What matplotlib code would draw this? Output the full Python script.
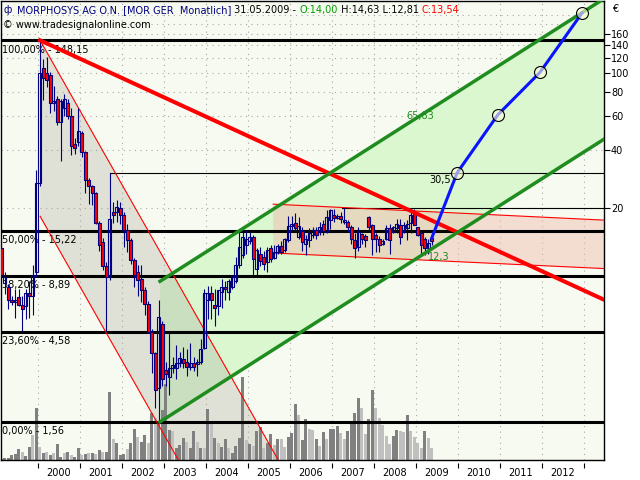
import matplotlib
matplotlib.use('Agg')
import matplotlib.pyplot as plt
import numpy as np
import pandas as pd
from matplotlib.patches import Rectangle, Polygon
from matplotlib.transforms import blended_transform_factory

plt.rcParams['font.family'] = 'DejaVu Sans'
plt.rcParams['font.size'] = 7

# monthly candles Feb 1999 .. May 2009
opens = [12.4, 8.2, 7.8, 6.7, 6.5, 6.9, 6.3, 6.2, 7.3, 7.0, 9.3,            # 1999
         27, 106, 100, 98, 70, 74, 56, 66, 70, 60, 43, 44,                   # 2000
         49, 39, 28, 26, 24, 16.8, 13.3, 10.0, 8.8, 19.0, 19.0, 20.0,        # 2001
         18.5, 15.4, 13.7, 10.8, 9.3, 8.6, 7.5, 6.4, 4.55, 3.55, 2.33, 5.0,  # 2002
         2.9, 2.66, 2.97, 2.97, 3.15, 3.3, 3.2, 3.0, 3.15, 3.1, 3.2, 3.77,   # 2003
         6.7, 7.3, 6.3, 6.2, 7.35, 7.8, 7.35, 7.8, 8.4, 10.1, 11.4, 12.8,    # 2004
         13.5, 14.1, 9.7, 11.6, 11.1, 10.45, 12.36, 11.0, 11.9, 12.66, 12.06, 13.6,  # 2005
         16.1, 16.7, 14.2, 15.2, 13.1, 13.6, 14.5, 15.4, 15.0, 16.5, 15.0, 17.3,    # 2006
         18.4, 17.8, 18.1, 16.9, 16.9, 15.9, 13.6, 12.5, 14.6, 14.3, 17.96, 16.3,   # 2007
         14.5, 13.9, 13.1, 13.9, 15.7, 15.0, 15.7, 16.3, 15.4, 15.7, 16.7, 18.8,    # 2008
         15.9, 14.8, 13.9, 12.4, 14.00]                                       # 2009
highs = [12.8, 9.3, 8.1, 7.0, 7.6, 7.6, 7.0, 7.6, 8.4, 10.1, 31.5,
         148.15, 119, 122, 102, 86, 76, 74, 78, 74, 66, 46, 66,
         50, 39.5, 28.5, 26.5, 24.3, 17.2, 14, 10.5, 30.5, 21.5, 22.0, 21.5,
         19, 16.5, 14, 11, 10.1, 10.1, 7.8, 6.6, 4.7, 3.6, 6.7, 5.2,
         3.2, 4.5, 3.4, 3.9, 3.6, 3.8, 3.7, 4.0, 3.4, 3.3, 4.2, 7.6,
         7.9, 7.9, 7.6, 7.5, 8.6, 8.4, 8.6, 9.0, 11.1, 15.4, 15.0, 15.4,
         15.0, 14.5, 12.4, 12.5, 12.0, 12.5, 12.8, 12.9, 13.1, 13.5, 14.0, 18.2,
         18.2, 18.8, 18.0, 16.0, 14.5, 15.7, 16.0, 16.0, 17.0, 17.3, 19.5, 19.8,
         19.8, 18.6, 19.2, 20.0, 17.4, 16.3, 14.9, 16.0, 14.8, 14.7, 18.2, 16.5,
         14.8, 14.3, 13.9, 16.3, 16.5, 16.1, 17.5, 17.5, 16.9, 17.3, 19.1, 19.8,
         15.9, 15.2, 14.2, 13.8, 14.63]
lows = [8.8, 7.2, 6.0, 6.3, 5.4, 6.2, 4.6, 5.3, 5.4, 5.6, 8.8,
        26, 72.6, 85, 62, 64, 54, 35, 60, 58, 37.5, 38, 42,
        36.6, 24, 21, 20.8, 16.5, 12, 9.5, 4.6, 8.5, 16.7, 17.0, 16.5,
        12.6, 11.8, 10.3, 7.8, 7.0, 6.5, 5.6, 4.5, 2.8, 1.85, 1.56, 2.4,
        2.4, 2.15, 2.8, 2.6, 3.0, 2.95, 2.7, 2.9, 2.85, 2.7, 3.1, 3.7,
        5.3, 5.3, 4.9, 5.6, 6.1, 6.7, 6.7, 7.6, 8.2, 9.8, 11.0, 11.6,
        13.0, 9.0, 9.0, 10.0, 9.5, 9.3, 10.5, 10.96, 11.5, 11.5, 11.9, 13.4,
        15.4, 15.2, 13.9, 12.0, 11.4, 12.6, 14.0, 13.9, 14.5, 14.5, 14.8, 15.5,
        16.9, 17.5, 16.7, 16.5, 15.0, 13.0, 11.0, 12.0, 13.0, 12.6, 15.3, 11.4,
        11.9, 11.9, 12.8, 13.6, 11.6, 14.8, 14.8, 13.1, 14.8, 13.6, 14.8, 16.3,
        14.3, 11.4, 11.4, 11.6, 12.81]
closes = [9.0, 8.8, 6.7, 6.55, 6.7, 6.3, 6.0, 7.3, 7.0, 9.0, 27.0,
          100, 94, 92, 70, 72, 56, 72, 74, 60, 42, 41, 50,
          39, 28, 26, 24, 16.8, 12.9, 10.0, 8.8, 17.6, 18.5, 20.2, 18.5,
          15.4, 13.7, 10.8, 9.0, 8.5, 7.5, 6.4, 4.55, 3.55, 2.28, 5.45, 2.6,
          2.75, 2.97, 3.08, 3.15, 3.35, 3.15, 3.0, 3.15, 3.0, 3.2, 3.7, 7.27,
          7.3, 6.7, 6.1, 7.5, 7.8, 7.65, 8.4, 8.8, 10.1, 12.5, 14.1, 13.9,
          14.1, 10.96, 12.1, 10.7, 10.3, 12.06, 10.96, 11.9, 12.66, 11.9, 13.78, 16.1,
          16.5, 15.7, 16.1, 13.3, 13.9, 14.8, 15.4, 14.5, 15.9, 15.2, 17.96, 19.5,
          17.8, 18.1, 17.6, 17.4, 15.9, 13.9, 12.36, 15.0, 13.9, 13.6, 15.9, 13.9,
          13.9, 12.8, 13.45, 15.7, 13.6, 15.9, 16.5, 14.1, 16.3, 16.5, 18.4, 16.3,
          14.5, 12.8, 12.4, 13.2, 13.54]

# monthly volume (10k shares) and bar shade (1 = dark, 0 = light)
volume = [1, 2, 2, 5, 6, 11, 8, 4, 13, 25, 52,
          13, 7, 8, 5, 7, 16, 3, 7, 8, 5, 3, 12,
          5, 6, 7, 7, 6, 10, 8, 8, 67, 21, 17, 5,
          6, 11, 17, 31, 23, 18, 25, 17, 47, 42, 37, 50,
          75, 30, 29, 12, 15, 22, 18, 12, 29, 18, 12, 12,
          51, 37, 22, 17, 13, 21, 12, 7, 14, 22, 82, 20,
          16, 14, 29, 33, 12, 17, 26, 15, 21, 21, 13, 23,
          27, 56, 45, 20, 41, 31, 30, 21, 14, 28, 21, 31,
          31, 34, 27, 21, 29, 38, 47, 62, 52, 26, 41, 69,
          52, 42, 35, 24, 16, 24, 30, 29, 28, 45, 29, 23,
          17, 12, 29, 22, 12]
vol_dark = [1, 1, 1, 1, 1, 1, 0, 1, 1, 0, 1,
            0, 1, 0, 1, 0, 1, 1, 0, 1, 0, 1, 1,
            0, 1, 0, 1, 0, 1, 0, 1, 1, 0, 1, 1,
            1, 0, 1, 1, 0, 1, 1, 0, 1, 0, 1, 1,
            1, 1, 0, 1, 1, 1, 0, 1, 1, 0, 1, 0,
            1, 0, 1, 0, 1, 1, 0, 1, 1, 1, 1, 0,
            1, 0, 1, 1, 0, 1, 1, 0, 1, 0, 0, 1,
            1, 1, 0, 1, 1, 0, 0, 1, 0, 1, 0, 1,
            1, 1, 0, 0, 1, 1, 1, 1, 0, 0, 1, 1,
            0, 0, 0, 0, 0, 1, 1, 0, 0, 1, 0, 0,
            0, 0, 1, 0, 0]

# Fibonacci retracement levels
fib_pct = ['100,00%', '50,00%', '38,20%', '23,60%', '0,00%']
fib_val = [148.15, 15.22, 8.89, 4.58, 1.56]

# trend lines: two anchor points (year, price)
down_upper = [(2000.05, 148.15), (2005.45, 1.256)]
down_lower = [(2000.05, 18.13), (2005.45, 0.1537)]
resist = [(2000.05, 148.15), (2013.476, 6.7)]
green_lower = [(2002.905, 1.56), (2009.375, 12.3)]
green_upper = [(2002.905, 8.35), (2009.375, 65.83)]
box_top = [(2005.6, 20.97), (2013.476, 17.33)]
box_bottom = [(2005.6, 11.7), (2013.476, 9.72)]
level_lines = [(2001.71, 30.5), (2007.24, 20.0)]

# projection
proj_t = [2009.375, 2009.98, 2010.95, 2011.95, 2012.95]
proj_v = [14.0, 30.5, 61.0, 101.0, 205.0]

price_ticks = [20, 40, 60, 80, 100, 120, 140, 160]
grid_levels = [20, 40, 60, 80, 100, 120, 140, 160, 180, 200]
years = list(range(2000, 2014))

X0, X1 = 1999.119, 2013.476


def logline(t, p):
    (t0, v0), (t1, v1) = p
    return v0 * (v1 / v0) ** ((np.asarray(t) - t0) / (t1 - t0))


def month_pos(n):
    d = pd.date_range(end='2009-05-01', periods=n, freq='MS')
    return np.array(d.year + (d.month - 0.5) / 12.0)


fig = plt.figure(figsize=(6.4, 4.8), dpi=100)
ax = fig.add_axes([1 / 640, 20 / 480, 603 / 640, 459 / 480])
ax.set_facecolor('#F7FAF0')
ax.set_yscale('log')
ax.set_xlim(X0, X1)
ax.set_ylim(0.989, 237)
ax.set_autoscale_on(False)

# grid
for g in grid_levels:
    ax.axhline(g, color='#A8A8A8', lw=0.8, ls=(0, (1, 4)), zorder=1)
for y in years:
    ax.axvline(y, color='#A8A8A8', lw=0.8, ls=(0, (1, 4)), zorder=1)

# channel fills
tg = np.array([green_lower[0][0], X1])
ax.add_patch(Polygon([(tg[0], logline(tg[0], green_lower)), (tg[1], logline(tg[1], green_lower)),
                      (tg[1], logline(tg[1], green_upper)), (tg[0], logline(tg[0], green_upper))],
                     closed=True, facecolor='#DAF7CF', edgecolor='none', zorder=1.5))
td = [down_upper[0][0], 2006.5]
ax.add_patch(Polygon([(td[0], logline(td[0], down_upper)), (td[1], logline(td[1], down_upper)),
                      (td[1], logline(td[1], down_lower)), (td[0], logline(td[0], down_lower))],
                     closed=True, facecolor='#A8A89C', alpha=0.3, edgecolor='none', zorder=1.6))
tb = [box_top[0][0], X1]
ax.add_patch(Polygon([(tb[0], logline(tb[0], box_top)), (tb[1], logline(tb[1], box_top)),
                      (tb[1], logline(tb[1], box_bottom)), (tb[0], logline(tb[0], box_bottom))],
                     closed=True, facecolor='#F0BFB2', alpha=0.5, edgecolor='none', zorder=1.7))

# volume bars at the bottom
tv = month_pos(len(volume))
vscale = max(volume) / 0.18
blend = blended_transform_factory(ax.transData, ax.transAxes)
for t, v, dk in zip(tv, volume, vol_dark):
    ax.add_patch(Rectangle((t - 0.034, 0), 0.068, v / vscale, transform=blend,
                           facecolor='#808080' if dk else '#C0C0C0', edgecolor='none', zorder=2))

# fibonacci levels
for p, v in zip(fib_pct, fib_val):
    ax.axhline(v, color='black', lw=2.2, zorder=3)
    ax.annotate(p + ' - ' + f'{v:.2f}'.replace('.', ','), xy=(0, v),
                xycoords=('axes fraction', 'data'), xytext=(0.5, -3), textcoords='offset points',
                ha='left', va='top', fontsize=7, zorder=3)

for t0, v in level_lines:
    ax.plot([t0, X1], [v, v], color='black', lw=0.8, zorder=3)

# thin channel lines
tt = np.array(td)
ax.plot(tt, logline(tt, down_upper), color='red', lw=0.8, zorder=3.2)
ax.plot(tt, logline(tt, down_lower), color='red', lw=0.8, zorder=3.2)
tb = np.array(tb)
ax.plot(tb, logline(tb, box_top), color='red', lw=0.8, zorder=3.2)
ax.plot(tb, logline(tb, box_bottom), color='red', lw=0.8, zorder=3.2)

# candles
tc = month_pos(len(opens))
ax.vlines(tc, lows, highs, color='#000080', lw=0.8, zorder=4)
for t, o, c in zip(tc, opens, closes):
    lo, hi = min(o, c), max(o, c)
    ax.add_patch(Rectangle((t - 0.034, lo), 0.068, hi - lo,
                           facecolor='red' if c < o else 'none',
                           edgecolor='#000080', lw=0.8, zorder=4.1))

# thick trend lines
tr = np.array([resist[0][0], X1])
ax.plot(tr, logline(tr, resist), color='#FF0000', lw=2.9, zorder=5)
ax.plot(tg, logline(tg, green_lower), color='#1F8C1F', lw=2.5, zorder=5)
ax.plot(tg, logline(tg, green_upper), color='#1F8C1F', lw=2.5, zorder=5)

# projection
ax.plot(proj_t, proj_v, color='#0A14FF', lw=2.2, zorder=6)
ax.plot(proj_t[1:], proj_v[1:], ls='none', marker='o', ms=8.6,
        mfc=(1, 1, 0.85, 0.6), mec='black', mew=0.8, zorder=6.1)

# value labels
ax.text(2009.1, 60.0, f'{green_upper[1][1]:.2f}'.replace('.', ','), color='#1F8C1F',
        ha='center', va='center', fontsize=7, zorder=7)
ax.text(2009.55, 11.2, f'{green_lower[1][1]:.1f}'.replace('.', ','), color='#1F8C1F',
        ha='center', va='center', fontsize=7, zorder=7)
ax.text(2009.83, 27.9, f'{level_lines[0][1]:.1f}'.replace('.', ','), color='black',
        ha='right', va='center', fontsize=7, zorder=7)

# axes
ax.yaxis.tick_right()
ax.set_yticks(price_ticks)
ax.set_yticklabels([str(v) for v in price_ticks])
ax.yaxis.set_minor_locator(matplotlib.ticker.NullLocator())
ax.tick_params(axis='y', direction='out', length=4, width=0.8, pad=1, labelsize=7)
ax.set_xticks(years)
ax.set_xticklabels([])
ax.set_xticks([y + 0.5 for y in years[:-1]], minor=True)
ax.set_xticklabels([str(y) for y in years[:-1]], minor=True)
ax.tick_params(axis='x', which='major', length=0)
ax.tick_params(axis='x', which='minor', length=0, pad=6, labelsize=7)
# year tick marks hang slightly below the frame
ax.vlines(years, -0.0065, -0.0185, transform=blend, color='black', lw=0.8, clip_on=False)
for s in ax.spines.values():
    s.set_linewidth(1.0)

fig.text(612 / 640, 1 - 9 / 480, '€', fontsize=7, ha='left', va='center')

# header
fig.text(3 / 640, 1 - 10 / 480, 'ф', color='#000080', fontsize=7, va='center')
parts = [('MORPHOSYS AG O.N. [MOR GER  Monatlich]', '#000080'),
         (' 31.05.2009 - ', 'black'),
         ('O:' + f'{opens[-1]:.2f}'.replace('.', ','), '#00A000'),
         (' H:' + f'{highs[-1]:.2f}'.replace('.', ',') + ' L:' + f'{lows[-1]:.2f}'.replace('.', ',') + ' ', 'black'),
         ('C:' + f'{closes[-1]:.2f}'.replace('.', ','), 'red')]
prev = fig.text(17 / 640, 1 - 10 / 480, parts[0][0], color=parts[0][1], fontsize=7, va='center')
for s, c in parts[1:]:
    prev = ax.annotate(s, xy=(1, 0), xycoords=prev, ha='left', va='bottom',
                       color=c, fontsize=7, annotation_clip=False)
fig.text(3 / 640, 1 - 25 / 480, '© www.tradesignalonline.com', fontsize=7, va='center')

fig.savefig('out.png', dpi=100, facecolor='white')
